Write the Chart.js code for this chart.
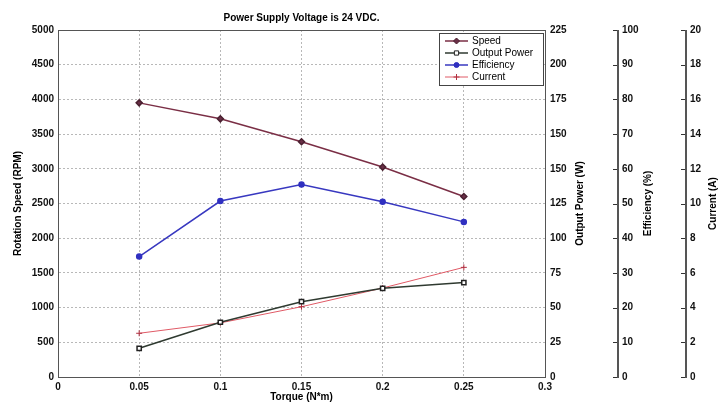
<!DOCTYPE html>
<html>
<head>
<meta charset="utf-8">
<title>Power Supply Voltage is 24 VDC.</title>
<script src="https://cdn.jsdelivr.net/npm/chart.js@4.4.0/dist/chart.umd.min.js"></script>
<style>
  html, body { margin: 0; padding: 0; background: #fff; }
  #wrap { position: relative; width: 720px; height: 405px; }
</style>
</head>
<body>
<div id="wrap"><canvas id="motorChart"></canvas></div>
<script>
// values
const torque = [0.05, 0.1, 0.15, 0.2, 0.25];
const speedRpm = [3950, 3720, 3390, 3025, 2600];
const outputPowerW = [18.6, 35.5, 48.8, 57.5, 61.2];
const efficiencyPct = [34.7, 50.7, 55.5, 50.5, 44.7];
const currentA = [2.52, 3.12, 4.05, 5.13, 6.32];

// ticks
const torqueTicks = [0, 0.05, 0.1, 0.15, 0.2, 0.25, 0.3];
const torqueTickLabels = ['0', '0.05', '0.1', '0.15', '0.2', '0.25', '0.3'];
const speedTicks = [0, 500, 1000, 1500, 2000, 2500, 3000, 3500, 4000, 4500, 5000];
const powerTicks = [0, 22.5, 45, 67.5, 90, 112.5, 135, 157.5, 180, 202.5, 225];
const powerTickLabels = ['0', '25', '50', '75', '100', '125', '150', '150', '175', '200', '225'];
const effTicks = [0, 10, 20, 30, 40, 50, 60, 70, 80, 90, 100];
const currentTicks = [0, 2, 4, 6, 8, 10, 12, 14, 16, 18, 20];

const chartTitle = 'Power Supply Voltage is 24 VDC.';
const xTitle = 'Torque (N*m)';
const speedTitle = 'Rotation Speed (RPM)';
const powerTitle = 'Output Power (W)';
const effTitle = 'Efficiency (%)';
const currentTitle = 'Current (A)';

const FONT = '"Liberation Sans", Arial, sans-serif';
const tickFont = { family: FONT, size: 10, weight: 'bold' };

const pts = (ys) => torque.map((t, i) => ({ x: t, y: ys[i] }));
const setTicks = (list) => (scale) => { scale.ticks = list.map(v => ({ value: v })); };
const plain = (v) => String(v);

const overlay = {
  id: 'overlay',
  afterDraw(chart) {
    const { ctx, chartArea: a, scales } = chart;
    ctx.save();
    ctx.setLineDash([]);

    // top edge of plot box
    ctx.fillStyle = '#555';
    ctx.fillRect(a.left, a.top, a.right - a.left, 1);

    // the two outer axes: line plus small ticks
    ['yEff', 'yCur'].forEach(id => {
      const s = scales[id];
      const x = Math.round(s.left);
      const y0 = Math.round(s.getPixelForValue(s.max));
      const y1 = Math.round(s.getPixelForValue(s.min));
      ctx.fillStyle = '#555';
      ctx.fillRect(x, y0, 2, y1 - y0 + 1);
      ctx.fillStyle = '#333';
      s.ticks.forEach(t => {
        const y = Math.round(s.getPixelForValue(t.value));
        ctx.fillRect(x - 4, y, 4, 1);
      });
    });

    // titles
    ctx.fillStyle = '#000';
    ctx.font = 'bold 10px ' + FONT;
    ctx.textAlign = 'center';
    ctx.textBaseline = 'middle';
    const midX = (a.left + a.right) / 2;
    const midY = (a.top + a.bottom) / 2;
    ctx.fillText(chartTitle, midX, 18);
    ctx.fillText(xTitle, midX, 397);
    [[speedTitle, 18], [powerTitle, 580], [effTitle, 648], [currentTitle, 713]].forEach(([txt, x]) => {
      ctx.save();
      ctx.translate(x, midY);
      ctx.rotate(-Math.PI / 2);
      ctx.fillText(txt, 0, 0);
      ctx.restore();
    });

    // legend box
    const bx = a.right - 106, by = a.top + 3, bw = 104, bh = 52;
    ctx.fillStyle = '#fff';
    ctx.fillRect(bx, by, bw, bh);
    ctx.strokeStyle = '#444';
    ctx.lineWidth = 1;
    ctx.strokeRect(bx + 0.5, by + 0.5, bw, bh);
    ctx.font = '10px ' + FONT;
    ctx.textAlign = 'left';
    chart.data.datasets.forEach((ds, i) => {
      const y = by + 8 + i * 12;
      ctx.strokeStyle = ds.borderColor;
      ctx.lineWidth = ds.borderWidth;
      ctx.beginPath();
      ctx.moveTo(bx + 6, y);
      ctx.lineTo(bx + 29, y);
      ctx.stroke();
      ctx.fillStyle = ds.pointBackgroundColor;
      ctx.strokeStyle = ds.pointBorderColor;
      ctx.lineWidth = 1;
      Chart.helpers.drawPoint(ctx, { pointStyle: ds.pointStyle, radius: ds.pointRadius, rotation: 0, borderWidth: 1 }, bx + 17.5, y);
      ctx.fillStyle = '#000';
      ctx.fillText(ds.label, bx + 33, y);
    });

    ctx.restore();
  }
};

const gridStyle = { color: '#b8b8b8', drawTicks: false };
const borderStyle = { color: '#555', dash: [2, 2] };

new Chart(document.getElementById('motorChart'), {
  type: 'line',
  data: {
    datasets: [
      {
        label: 'Speed',
        data: pts(speedRpm),
        yAxisID: 'y',
        borderColor: '#7a2e45',
        borderWidth: 1.5,
        pointStyle: 'rectRot',
        pointRadius: 3,
        pointBackgroundColor: '#6a3048',
        pointBorderColor: '#4a2030'
      },
      {
        label: 'Output Power',
        data: pts(outputPowerW),
        yAxisID: 'yPower',
        borderColor: '#2f3a30',
        borderWidth: 1.5,
        pointStyle: 'rect',
        pointRadius: 3,
        pointBackgroundColor: '#ffffff',
        pointBorderColor: '#222222'
      },
      {
        label: 'Efficiency',
        data: pts(efficiencyPct),
        yAxisID: 'yEff',
        borderColor: '#3838c0',
        borderWidth: 1.5,
        pointStyle: 'circle',
        pointRadius: 2.5,
        pointBackgroundColor: '#3030c0',
        pointBorderColor: '#3030c0'
      },
      {
        label: 'Current',
        data: pts(currentA),
        yAxisID: 'yCur',
        borderColor: '#e05a66',
        borderWidth: 1,
        pointStyle: 'cross',
        pointRadius: 3,
        pointBackgroundColor: '#e05a66',
        pointBorderColor: '#b03040'
      }
    ]
  },
  options: {
    responsive: true,
    maintainAspectRatio: false,
    animation: false,
    layout: { padding: { top: 30 } },
    plugins: {
      legend: { display: false },
      title: { display: false },
      tooltip: { enabled: false }
    },
    elements: { line: { tension: 0, fill: false } },
    scales: {
      x: {
        type: 'linear', min: 0, max: 0.3,
        afterBuildTicks: setTicks(torqueTicks),
        afterFit: (s) => { s.height = 28; },
        ticks: { callback: (v, i) => torqueTickLabels[i], font: tickFont, color: '#111', padding: 4, maxRotation: 0, autoSkip: false },
        grid: gridStyle,
        border: borderStyle
      },
      y: {
        position: 'left', min: 0, max: 5000,
        afterBuildTicks: setTicks(speedTicks),
        afterFit: (s) => { s.width = 58; },
        ticks: { callback: plain, font: tickFont, color: '#111', padding: 4, autoSkip: false },
        grid: gridStyle,
        border: borderStyle
      },
      yPower: {
        position: 'right', weight: 0, min: 0, max: 225,
        afterBuildTicks: setTicks(powerTicks),
        afterFit: (s) => { s.width = 72; },
        ticks: { callback: (v, i) => powerTickLabels[i], font: tickFont, color: '#111', padding: 5, autoSkip: false },
        grid: { drawOnChartArea: false, drawTicks: false },
        border: { color: '#555' }
      },
      yEff: {
        position: 'right', weight: 1, min: 0, max: 100,
        afterBuildTicks: setTicks(effTicks),
        afterFit: (s) => { s.width = 68; },
        ticks: { callback: plain, font: tickFont, color: '#111', padding: 5, autoSkip: false },
        grid: { drawOnChartArea: false, drawTicks: false },
        border: { display: false }
      },
      yCur: {
        position: 'right', weight: 2, min: 0, max: 20,
        afterBuildTicks: setTicks(currentTicks),
        afterFit: (s) => { s.width = 35; },
        ticks: { callback: plain, font: tickFont, color: '#111', padding: 5, autoSkip: false },
        grid: { drawOnChartArea: false, drawTicks: false },
        border: { display: false }
      }
    }
  },
  plugins: [overlay]
});
</script>
</body>
</html>
